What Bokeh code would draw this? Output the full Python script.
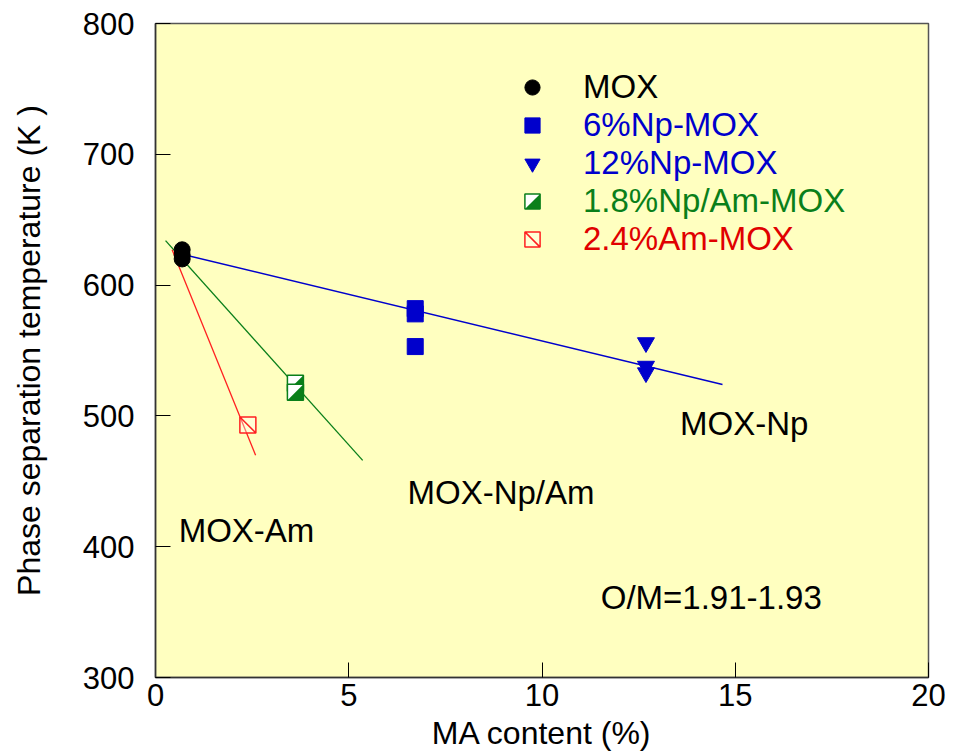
from bokeh.plotting import figure
from bokeh.models import Range1d, Legend, LegendItem, CustomJS, FixedTicker
from bokeh.models.glyphs import Scatter
from bokeh.core.properties import value
from bokeh.embed import file_html
from bokeh.resources import INLINE

# ---------------- data ----------------
mox_x = [0.69, 0.69, 0.69]
mox_y = [627, 623, 620]

np6_x = [6.72, 6.72, 6.72]
np6_y = [582, 578, 553]

np12_x = [12.69, 12.69, 12.69]
np12_y = [556, 538, 533]

npam_x = [3.62, 3.62]
npam_y = [525, 518]

am_x = [2.39]
am_y = [493]

# fitted trend lines (end points)
fit_np_x = [0.49, 14.67]
fit_np_y = [625, 524]
fit_npam_x = [0.26, 5.36]
fit_npam_y = [634, 466]
fit_am_x = [0.43, 2.59]
fit_am_y = [627, 470]

x_ticks = [0, 5, 10, 15, 20]
y_ticks = [300, 400, 500, 600, 700, 800]

ann_text = ["MOX-Np", "MOX-Np/Am", "MOX-Am", "O/M=1.91-1.93"]
ann_x = [13.57, 6.52, 0.60, 11.52]
ann_y = [494.0, 441.5, 412.5, 361.0]

legend_labels = ["MOX", "6%Np-MOX", "12%Np-MOX", "1.8%Np/Am-MOX", "2.4%Am-MOX"]

# ---------------- styles ----------------
FONT = "Liberation Sans"
BLUE = "#0000CC"
GREEN = "#0A7F1A"
RED = "#E00000"
BG = "#FFFFC0"

p = figure(width=953, height=753,
           x_range=Range1d(0, 20), y_range=Range1d(300, 800),
           output_backend="svg", toolbar_location=None,
           min_border_left=155, min_border_right=25,
           min_border_top=23, min_border_bottom=75,
           background_fill_color=BG, border_fill_color="white",
           outline_line_color="#555555", outline_line_width=1.5)

p.grid.visible = False
p.xaxis.ticker = FixedTicker(ticks=x_ticks)
p.yaxis.ticker = FixedTicker(ticks=y_ticks)
for ax in (p.xaxis[0], p.yaxis[0]):
    ax.major_tick_in = 15
    ax.major_tick_out = 0
    ax.major_tick_line_color = "black"
    ax.minor_tick_line_color = None
    ax.axis_line_color = "#333333"
    ax.axis_line_width = 1.5
    ax.major_label_text_font = FONT
    ax.major_label_text_font_size = "31px"
    ax.major_label_text_color = "black"
    ax.axis_label_text_font = FONT
    ax.axis_label_text_font_size = "32px"
    ax.axis_label_text_font_style = "normal"
    ax.axis_label_text_color = "black"

p.xaxis.axis_label = "MA content (%)"
p.yaxis.axis_label = "Phase separation temperature (K )"
p.xaxis.major_label_standoff = 6
p.xaxis.axis_label_standoff = 6
p.yaxis.major_label_standoff = 21
p.yaxis.axis_label_standoff = 33

# trend lines
p.line(fit_np_x, fit_np_y, line_color=BLUE, line_width=1.5)
p.line(fit_npam_x, fit_npam_y, line_color=GREEN, line_width=1.3)
p.line(fit_am_x, fit_am_y, line_color="#FF2020", line_width=1.3)

has_defs = "defs" in Scatter.properties()

half_js = CustomJS(code="""
export default (args, obj, {ctx, i, r, visuals}) => {
  ctx.beginPath()
  ctx.rect(-r, -r, 2*r, 2*r)
  ctx.fillStyle = "#ffffff"
  ctx.fill()
  ctx.beginPath()
  ctx.moveTo(-r, r)
  ctx.lineTo(r, -r)
  ctx.lineTo(r, r)
  ctx.closePath()
  visuals.fill.apply(ctx, i)
  ctx.beginPath()
  ctx.rect(-r, -r, 2*r, 2*r)
  visuals.line.apply(ctx, i)
}
""")

diag_js = CustomJS(code="""
export default (args, obj, {ctx, i, r, visuals}) => {
  ctx.beginPath()
  ctx.rect(-r, -r, 2*r, 2*r)
  visuals.fill.apply(ctx, i)
  ctx.moveTo(-r, -r)
  ctx.lineTo(r, r)
  visuals.line.apply(ctx, i)
}
""")

r_mox = p.scatter(mox_x, mox_y, marker="circle", size=16,
                  fill_color="black", line_color="black")
r_np6 = p.scatter(np6_x, np6_y, marker="square", size=16,
                  fill_color=BLUE, line_color=BLUE)
r_np12 = p.scatter(np12_x, np12_y, marker="inverted_triangle", size=17,
                   fill_color=BLUE, line_color=BLUE)
if has_defs:
    r_npam = p.scatter(npam_x, npam_y, marker="@half", defs={"@half": half_js},
                       size=16, fill_color=GREEN, line_color=GREEN, line_width=1.5)
    r_am = p.scatter(am_x, am_y, marker="@diag", defs={"@diag": diag_js},
                     size=16, fill_color="white", fill_alpha=0.35,
                     line_color="#FF2020", line_width=1.5)
else:
    r_npam = p.scatter(npam_x, npam_y, marker="square", size=16,
                       fill_color=GREEN, line_color=GREEN, line_width=1.5)
    r_am = p.scatter(am_x, am_y, marker="square_x", size=16, fill_alpha=0,
                     line_color="#FF2020", line_width=1.5)

p.text(x=ann_x, y=ann_y, text=ann_text, text_font=value(FONT),
       text_font_size="33px", text_baseline="alphabetic", text_align="left",
       text_color="black")

# legends (one per entry so each label keeps its colour)
leg_rends = [r_mox, r_np6, r_np12, r_npam, r_am]
leg_colors = ["black", BLUE, BLUE, GREEN, RED]
row_h = 38
for k, (lab, rend, col) in enumerate(zip(legend_labels, leg_rends, leg_colors)):
    lg = Legend(items=[LegendItem(label=lab, renderers=[rend])],
                location=(357, 419 + (4 - k) * row_h),
                background_fill_alpha=0, border_line_alpha=0,
                padding=0, margin=0, spacing=0,
                glyph_width=40, glyph_height=row_h, label_height=row_h,
                label_standoff=31, label_text_font=FONT,
                label_text_font_size="33px", label_text_color=col,
                label_text_baseline="middle")
    p.add_layout(lg)

open("out.html", "w").write(file_html(p, INLINE))
